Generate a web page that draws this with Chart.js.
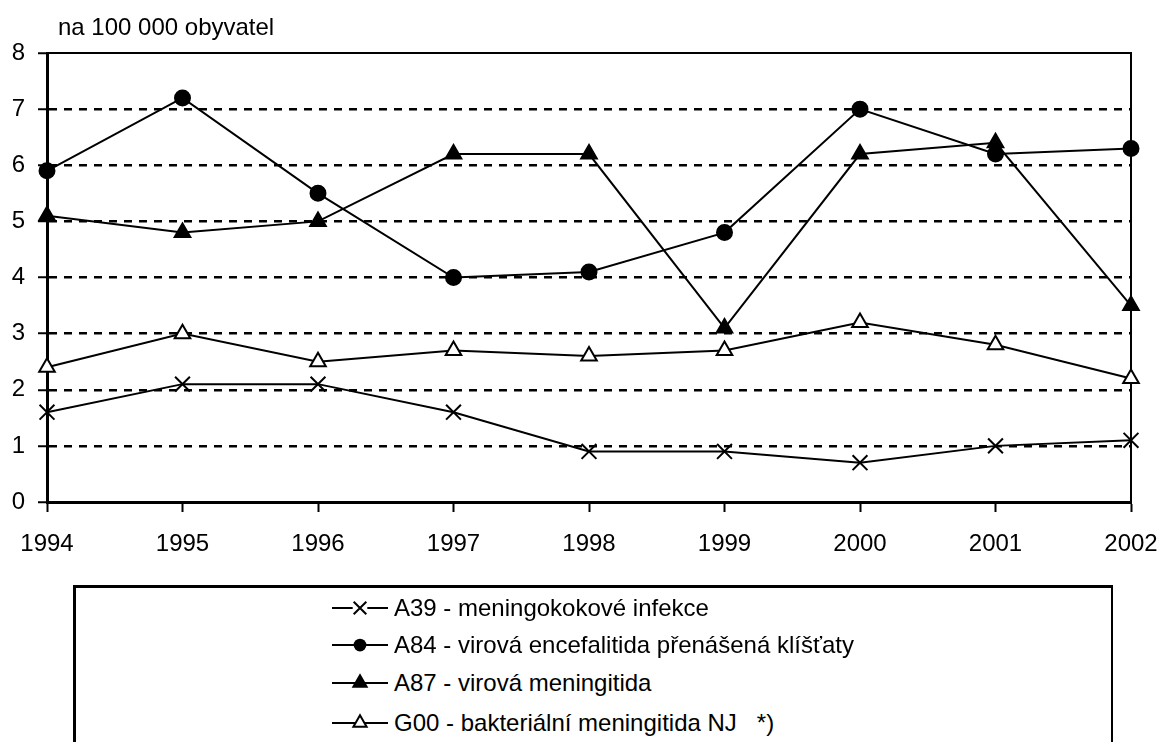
<!DOCTYPE html>
<html>
<head>
<meta charset="utf-8">
<script src="https://cdn.jsdelivr.net/npm/chart.js"></script>
<style>
  html, body { margin: 0; padding: 0; background: #fff; }
  #wrap { position: relative; width: 1162px; height: 742px; overflow: hidden; font-family: "Liberation Sans", Arial, sans-serif; }
  #legend { position: absolute; left: 73px; top: 585px; width: 1035px; height: 200px; border: 3px solid #000; border-right-width: 2px; background: #fff; }
  .item { position: absolute; left: 256px; height: 30px; display: flex; align-items: center; font-size: 24px; color: #000; white-space: pre; }
  .item canvas { margin-right: 6px; }
</style>
</head>
<body>
<div id="wrap">
  <canvas id="lineChart" width="1162" height="742"></canvas>
  <div id="legend"></div>
</div>
<script>
var years = ['1994', '1995', '1996', '1997', '1998', '1999', '2000', '2001', '2002'];
var names = [
    'A39 - meningokokové infekce',
    'A84 - virová encefalitida přenášená klíšťaty',
    'A87 - virová meningitida',
    'G00 - bakteriální meningitida NJ   *)'
];
var a39 = [1.6, 2.1, 2.1, 1.6, 0.9, 0.9, 0.7, 1.0, 1.1];
var a84 = [5.9, 7.2, 5.5, 4.0, 4.1, 4.8, 7.0, 6.2, 6.3];
var a87 = [5.1, 4.8, 5.0, 6.2, 6.2, 3.1, 6.2, 6.4, 3.5];
var g00 = [2.4, 3.0, 2.5, 2.7, 2.6, 2.7, 3.2, 2.8, 2.2];
var yMin = 0, yMax = 8, yStep = 1;
var unitLabel = 'na 100 000 obyvatel';

var font = { family: '"Liberation Sans", Arial, sans-serif', size: 24 };

// marker looks: x, filled circle, filled triangle, open triangle
var markers = [
    { style: 'crossRot', radius: 10.5, fill: '#000' },
    { style: 'circle', radius: 7.5, fill: '#000' },
    { style: 'triangle', radius: 9, fill: '#000' },
    { style: 'triangle', radius: 9, fill: '#fff' }
];
var series = [a39, a84, a87, g00];

var datasets = series.map(function (values, i) {
    return {
        label: names[i],
        data: values,
        borderColor: '#000',
        borderWidth: 2,
        tension: 0,
        fill: false,
        pointStyle: markers[i].style,
        pointRadius: markers[i].radius,
        pointBackgroundColor: markers[i].fill,
        pointBorderColor: '#000',
        pointBorderWidth: 2
    };
});

var unitTitle = {
    id: 'unitTitle',
    afterDraw: function (chart) {
        var ctx = chart.ctx;
        ctx.save();
        ctx.font = font.size + 'px ' + font.family;
        ctx.fillStyle = '#000';
        ctx.textBaseline = 'alphabetic';
        ctx.fillText(unitLabel, 58, 35);
        ctx.restore();
    }
};

var config = {
    type: 'line',
    data: { labels: years, datasets: datasets },
    options: {
        responsive: false,
        animation: false,
        layout: { padding: { top: 53, right: 0, bottom: 180, left: 0 } },
        plugins: { legend: { display: false }, tooltip: { enabled: false } },
        scales: {
            x: {
                type: 'category',
                position: 'bottom',
                offset: false,
                afterFit: function (s) { s.height = 60; s.paddingLeft = 0; s.paddingRight = 0; },
                grid: { drawOnChartArea: false, drawTicks: true, tickLength: 10, tickWidth: 2, tickColor: '#000', color: '#000' },
                border: { color: '#000', width: 3 },
                ticks: { color: '#000', font: font, padding: 18, maxRotation: 0, autoSkip: false }
            },
            xTop: {
                type: 'category',
                position: 'top',
                afterFit: function (s) { s.height = 0; s.paddingLeft = 0; s.paddingRight = 0; },
                grid: { drawOnChartArea: false, drawTicks: false },
                border: { color: '#000', width: 2 },
                ticks: { display: false }
            },
            y: {
                position: 'left',
                min: yMin,
                max: yMax,
                afterFit: function (s) { s.width = 47; },
                grid: {
                    color: function (c) { return c.tick && c.tick.value === yMax ? 'rgba(0,0,0,0)' : '#000'; },
                    lineWidth: 2.5,
                    tickLength: 9,
                    tickWidth: 2,
                    tickColor: '#000'
                },
                border: { color: '#000', width: 3, dash: [8, 7] },
                ticks: { stepSize: yStep, color: '#000', font: font, padding: 13 }
            },
            yRight: {
                position: 'right',
                min: yMin,
                max: yMax,
                afterFit: function (s) { s.width = 31; },
                grid: { drawOnChartArea: false, drawTicks: false },
                border: { color: '#000', width: 2 },
                ticks: { display: false }
            }
        }
    },
    plugins: [unitTitle]
};

var lineChart = new Chart(document.getElementById('lineChart'), config);

// legend below the plot: line sample with marker, then the name
function drawSample(cv, m) {
    var c = cv.getContext('2d');
    var cx = 28, cy = 15, r = m.radius * 0.85;
    c.strokeStyle = '#000';
    c.lineWidth = 2;
    c.beginPath(); c.moveTo(0, cy); c.lineTo(56, cy); c.stroke();
    c.fillStyle = m.fill;
    c.beginPath();
    if (m.style === 'circle') {
        c.arc(cx, cy, r, 0, Math.PI * 2);
        c.fill();
    } else if (m.style === 'triangle') {
        c.moveTo(cx, cy - r);
        c.lineTo(cx + r * Math.sin(Math.PI / 3), cy + r / 2);
        c.lineTo(cx - r * Math.sin(Math.PI / 3), cy + r / 2);
        c.closePath();
        c.fill();
        c.stroke();
    } else {
        var d = r * Math.SQRT1_2;
        c.fillStyle = '#fff';
        c.fillRect(cx - d - 1, cy - 2, 2 * d + 2, 4);
        c.moveTo(cx - d, cy - d); c.lineTo(cx + d, cy + d);
        c.moveTo(cx + d, cy - d); c.lineTo(cx - d, cy + d);
        c.stroke();
    }
}

var legendBox = document.getElementById('legend');
var rowTops = [5, 42, 80, 120];
names.forEach(function (name, i) {
    var row = document.createElement('div');
    row.className = 'item';
    row.style.top = rowTops[i] + 'px';
    var cv = document.createElement('canvas');
    cv.width = 56; cv.height = 30;
    drawSample(cv, markers[i]);
    row.appendChild(cv);
    var t = document.createElement('span');
    t.textContent = name;
    row.appendChild(t);
    legendBox.appendChild(row);
});
</script>
</body>
</html>
